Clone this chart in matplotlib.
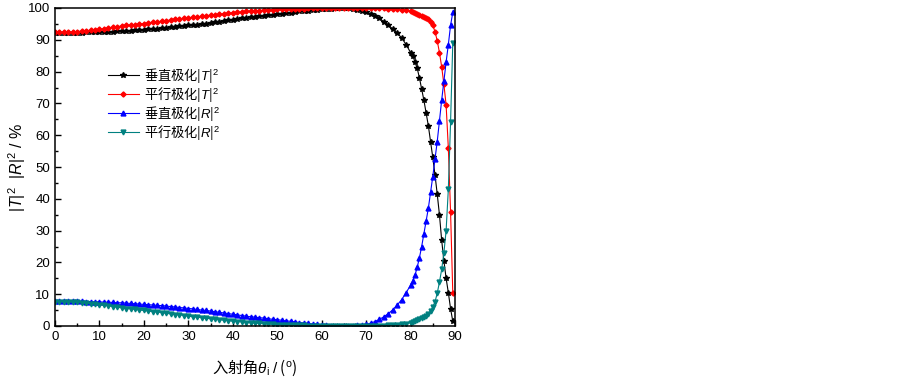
import numpy as np
import matplotlib
matplotlib.use('Agg')
import matplotlib.pyplot as plt
from matplotlib.ticker import MultipleLocator

plt.rcParams['font.family'] = ['Liberation Sans', 'Noto Sans CJK SC']
plt.rcParams['mathtext.fontset'] = 'custom'
plt.rcParams['mathtext.rm'] = 'Liberation Sans'
plt.rcParams['mathtext.it'] = 'Liberation Sans:italic'
# mathtext draws plain text in the first family only, so CJK labels get the CJK font first
cjk = 'Noto Sans CJK SC'

# incidence angle grid: 1 deg up to 80, then 0.5 deg
angle = np.concatenate([np.arange(0, 81, 1.0), np.arange(80.5, 90, 0.5)])

# perpendicular |T|^2 (%)
t_perp = [92.1, 92.1, 92.1, 92.1, 92.2, 92.2, 92.2, 92.3, 92.3, 92.4,
          92.4, 92.5, 92.5, 92.6, 92.7, 92.7, 92.8, 92.9, 93.0, 93.1,
          93.2, 93.3, 93.4, 93.5, 93.6, 93.7, 93.9, 94.0, 94.2, 94.3,
          94.5, 94.6, 94.8, 95.0, 95.1, 95.3, 95.5, 95.7, 95.9, 96.1,
          96.3, 96.5, 96.7, 96.9, 97.1, 97.2, 97.4, 97.5, 97.7, 97.9,
          98.0, 98.2, 98.4, 98.5, 98.7, 98.9, 99.05, 99.2, 99.35, 99.5,
          99.6, 99.7, 99.8, 99.85, 99.9, 99.9, 99.9, 99.7, 99.5, 99.1,
          98.7, 98.2, 97.6, 96.7, 95.7, 94.6, 93.4, 92.1, 90.6, 88.5,
          86.0,
          85.0, 83.0, 81.0, 78.0, 74.5, 71.0, 67.0, 63.0, 58.0, 53.0,
          47.5, 41.5, 35.0, 27.0, 20.5, 15.0, 10.5, 5.5, 1.5]

# parallel |T|^2 (%)
t_par = [92.3, 92.3, 92.4, 92.4, 92.5, 92.6, 92.7, 92.8, 93.0, 93.1,
         93.3, 93.5, 93.7, 93.9, 94.1, 94.3, 94.5, 94.6, 94.8, 95.0,
         95.1, 95.3, 95.5, 95.6, 95.8, 96.0, 96.2, 96.4, 96.5, 96.7,
         96.9, 97.1, 97.2, 97.4, 97.6, 97.7, 97.9, 98.0, 98.2, 98.3,
         98.5, 98.6, 98.7, 98.9, 99.0, 99.1, 99.2, 99.3, 99.4, 99.5,
         99.55, 99.6, 99.65, 99.7, 99.75, 99.8, 99.8, 99.85, 99.85, 99.9,
         99.9, 99.95, 99.95, 99.95, 99.95, 99.95, 99.95, 99.95, 99.95, 99.95,
         99.95, 99.95, 99.95, 99.9, 99.85, 99.8, 99.7, 99.6, 99.5, 99.3,
         99.0,
         98.8, 98.5, 98.2, 97.9, 97.6, 97.3, 96.9, 96.4, 95.6, 94.5,
         92.6, 89.7, 86.0, 81.5, 76.0, 69.5, 56.0, 36.0, 10.5]

# perpendicular |R|^2 (%)
r_perp = [7.9, 7.9, 7.9, 7.9, 7.8, 7.8, 7.8, 7.7, 7.7, 7.6,
          7.6, 7.5, 7.5, 7.4, 7.3, 7.3, 7.2, 7.1, 7.0, 6.9,
          6.8, 6.7, 6.6, 6.5, 6.4, 6.3, 6.1, 6.0, 5.8, 5.7,
          5.5, 5.4, 5.2, 5.0, 4.9, 4.7, 4.5, 4.3, 4.1, 3.9,
          3.7, 3.5, 3.3, 3.1, 2.9, 2.8, 2.6, 2.5, 2.3, 2.1,
          2.0, 1.8, 1.6, 1.5, 1.3, 1.1, 0.95, 0.8, 0.65, 0.5,
          0.4, 0.25, 0.15, 0.1, 0.05, 0.0, 0.05, 0.1, 0.2, 0.35,
          0.5, 0.9, 1.4, 2.1, 2.9, 3.9, 5.1, 6.6, 8.3, 10.5,
          12.8,
          14.3, 16.0, 18.5, 21.5, 25.0, 29.0, 33.0, 37.0, 42.0, 47.0,
          52.5, 58.0, 64.5, 71.0, 77.0, 83.0, 88.5, 94.5, 98.6]

# parallel |R|^2 (%)
r_par = [7.7, 7.7, 7.6, 7.6, 7.5, 7.4, 7.3, 7.2, 7.0, 6.9,
         6.7, 6.5, 6.3, 6.1, 5.9, 5.7, 5.5, 5.4, 5.2, 5.0,
         4.9, 4.7, 4.5, 4.4, 4.2, 4.0, 3.8, 3.6, 3.5, 3.3,
         3.1, 2.9, 2.8, 2.6, 2.4, 2.3, 2.1, 2.0, 1.8, 1.7,
         1.5, 1.4, 1.3, 1.1, 1.0, 0.9, 0.8, 0.7, 0.6, 0.5,
         0.45, 0.4, 0.35, 0.3, 0.25, 0.2, 0.2, 0.15, 0.15, 0.1,
         0.1, 0.05, 0.05, 0.05, 0.05, 0.05, 0.05, 0.05, 0.05, 0.05,
         0.05, 0.05, 0.05, 0.1, 0.15, 0.2, 0.3, 0.4, 0.5, 0.7,
         1.0,
         1.2, 1.5, 1.8, 2.1, 2.4, 2.8, 3.2, 3.8, 4.8, 6.0,
         7.6, 10.3, 13.8, 17.8, 23.0, 30.0, 43.0, 64.0, 89.0]

labels = ['垂直极化|$T$|$^2$', '平行极化|$T$|$^2$', '垂直极化|$R$|$^2$', '平行极化|$R$|$^2$']

fig = plt.figure(figsize=(9.03, 3.84), dpi=100)
ax = fig.add_axes([55/903, 1-326/384, 400/903, 318/384])

ax.plot(angle, t_perp, color='black', marker='*', ms=4, lw=0.8, label=labels[0])
ax.plot(angle, t_par, color='red', marker='D', ms=2.6, lw=0.8, label=labels[1])
ax.plot(angle, r_perp, color='blue', marker='^', ms=3.5, lw=0.8, label=labels[2])
ax.plot(angle, r_par, color='#008080', marker='v', ms=3.5, lw=0.8, label=labels[3])

ax.set_xlim(0, 90)
ax.set_ylim(0, 100)
ax.xaxis.set_major_locator(MultipleLocator(10))
ax.xaxis.set_minor_locator(MultipleLocator(5))
ax.yaxis.set_major_locator(MultipleLocator(10))
ax.yaxis.set_minor_locator(MultipleLocator(5))
ax.tick_params(which='both', direction='in', labelsize=9.5, width=1)
ax.tick_params(which='major', length=4)
ax.tick_params(which='minor', length=2.5)
for s in ax.spines.values():
    s.set_linewidth(1.1)

ax.set_xlabel('入射角$\\theta_\\mathrm{i}$ $\\mathit{/}$ ($^\\mathrm{o}$)', fontsize=11,
              labelpad=11, fontfamily=cjk)
ax.set_ylabel('|$T$|$^2$  |$R$|$^2$ / %', fontsize=11.5, labelpad=0)

ax.legend(loc='upper left', bbox_to_anchor=(0.12, 0.835), frameon=False,
          prop={'family': cjk, 'size': 9.5},
          handlelength=2.3, handletextpad=0.4, labelspacing=0.0, borderaxespad=0)

fig.savefig('out.png', dpi=100)
